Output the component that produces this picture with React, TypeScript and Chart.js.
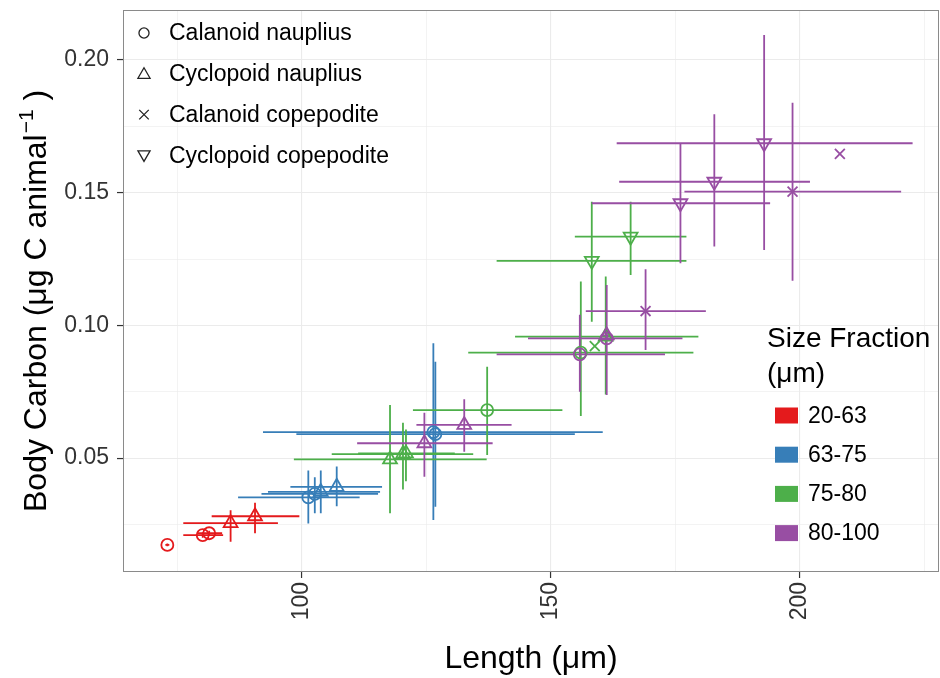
import React, { useEffect, useRef } from 'react';
import { Chart, registerables } from 'chart.js';

Chart.register(...registerables);

const FONT = '"Liberation Sans", Arial, Helvetica, sans-serif';

// ---------- categories ----------
const stageNames = ['Calanoid nauplius', 'Cyclopoid nauplius', 'Calanoid copepodite', 'Cyclopoid copepodite'];
const fractionNames = ['20-63', '63-75', '75-80', '80-100'];
const fractionColors = ['#E41A1C', '#377EB8', '#4DAF4A', '#984EA3'];

// ---------- observations ----------
const obsFraction = [0, 0, 0, 0, 0, 1, 1, 1, 1, 1, 1, 2, 2, 2, 2, 2, 2, 2, 2, 2, 3, 3, 3, 3, 3, 3, 3, 3, 3, 3, 3];
const obsStage = [0, 0, 0, 1, 1, 0, 0, 1, 1, 0, 0, 1, 1, 1, 0, 0, 2, 1, 3, 3, 1, 1, 0, 0, 1, 2, 3, 3, 3, 2, 2];
const lengthMean = [73.0, 80.1, 81.4, 85.7, 90.6, 101.3, 102.6, 103.8, 107.0, 126.4, 126.8, 117.7, 120.3, 120.9, 137.2, 156.0, 158.8, 161.0, 158.2, 166.0, 124.6, 132.6, 155.8, 161.2, 161.2, 169.0, 176.0, 182.8, 192.8, 198.5, 208.0];
const lengthLow = [72.6, 76.2, 79.0, 76.2, 81.9, 87.2, 91.9, 93.2, 97.7, 92.2, 98.9, 98.4, 106.0, 111.3, 122.3, 133.4, 158.8, 142.8, 139.1, 154.8, 111.1, 123.0, 139.1, 145.4, 160.0, 157.0, 158.2, 163.7, 163.2, 176.8, 208.0];
const lengthHigh = [73.4, 84.2, 84.0, 95.2, 99.5, 111.6, 115.3, 115.7, 116.1, 160.4, 154.8, 137.1, 134.4, 130.7, 152.3, 178.6, 158.8, 179.6, 177.2, 177.2, 138.3, 142.1, 172.9, 176.4, 162.4, 181.1, 194.0, 202.0, 222.6, 220.3, 208.0];
const carbonMean = [0.0173, 0.0210, 0.0217, 0.0255, 0.0281, 0.0352, 0.0365, 0.0373, 0.0392, 0.0598, 0.0590, 0.0495, 0.0515, 0.0518, 0.0681, 0.0897, 0.0922, 0.0958, 0.1243, 0.1334, 0.0556, 0.0625, 0.0891, 0.0951, 0.0962, 0.1054, 0.1460, 0.1541, 0.1686, 0.1504, 0.1646];
const carbonLow = [0.0168, 0.0200, 0.0208, 0.0185, 0.0217, 0.0254, 0.0292, 0.0292, 0.0319, 0.0267, 0.0317, 0.0292, 0.0382, 0.0413, 0.0512, 0.0659, 0.0922, 0.0740, 0.1014, 0.1190, 0.0430, 0.0524, 0.0750, 0.0738, 0.0950, 0.0907, 0.1234, 0.1297, 0.1284, 0.1168, 0.1646];
const carbonHigh = [0.0178, 0.0220, 0.0226, 0.0304, 0.0332, 0.0453, 0.0428, 0.0453, 0.0468, 0.0933, 0.0863, 0.0700, 0.0633, 0.0608, 0.0844, 0.1165, 0.0922, 0.1184, 0.1466, 0.1466, 0.0671, 0.0722, 0.1040, 0.1152, 0.0975, 0.1211, 0.1686, 0.1795, 0.2094, 0.1839, 0.1646];

// ---------- ticks ----------
const xMajorTicks = [100, 150, 200];
const xTickLabels = ['100', '150', '200'];
const xMinorTicks = [75, 125, 175, 225];
const yMajorTicks = [0.05, 0.1, 0.15, 0.2];
const yTickLabels = ['0.05', '0.10', '0.15', '0.20'];
const yMinorTicks = [0.025, 0.075, 0.125, 0.175];
const xRange = [64.1, 227.9];
const yRange = [0.0071, 0.2188];

const xTitle = 'Length (μm)';
const yTitleMain = 'Body Carbon (μg C animal';
const yTitleSup = '−1';
const yTitleEnd = ' )';
const legendTitleLines = ['Size Fraction', '(μm)'];

// marker look (style, not data)
const shapeStyles = ['circle', 'triangle', 'crossRot', 'triangle'];
const shapeRotation = [0, 0, 0, 180];
const shapeRadius = [6, 8, 7, 8];

const near = (a: number, list: number[]) => list.findIndex((v) => Math.abs(v - a) < 1e-6);

function drawShape(ctx: CanvasRenderingContext2D, s: number, x: number, y: number, r: number) {
  ctx.beginPath();
  if (s === 0) {
    ctx.arc(x, y, r * 0.72, 0, Math.PI * 2);
  } else if (s === 1) {
    ctx.moveTo(x, y - r);
    ctx.lineTo(x + r * 0.866, y + r * 0.5);
    ctx.lineTo(x - r * 0.866, y + r * 0.5);
    ctx.closePath();
  } else if (s === 3) {
    ctx.moveTo(x, y + r);
    ctx.lineTo(x + r * 0.866, y - r * 0.5);
    ctx.lineTo(x - r * 0.866, y - r * 0.5);
    ctx.closePath();
  } else {
    const d = r * 0.68;
    ctx.moveTo(x - d, y - d);
    ctx.lineTo(x + d, y + d);
    ctx.moveTo(x + d, y - d);
    ctx.lineTo(x - d, y + d);
  }
  ctx.stroke();
}

const errorBarPlugin = {
  id: 'errorBars',
  beforeDatasetsDraw(chart: any) {
    const { ctx, chartArea, scales } = chart;
    const xs = scales.x;
    const ys = scales.y;
    ctx.save();
    ctx.beginPath();
    ctx.rect(chartArea.left, chartArea.top, chartArea.right - chartArea.left, chartArea.bottom - chartArea.top);
    ctx.clip();
    ctx.lineWidth = 1.8;
    ctx.lineCap = 'butt';
    chart.data.datasets.forEach((ds: any) => {
      ctx.strokeStyle = ds.borderColor;
      ds.data.forEach((p: any) => {
        const px = xs.getPixelForValue(p.x);
        const py = ys.getPixelForValue(p.y);
        ctx.beginPath();
        if (p.xHi > p.xLo) {
          ctx.moveTo(xs.getPixelForValue(p.xLo), py);
          ctx.lineTo(xs.getPixelForValue(p.xHi), py);
        }
        if (p.yHi > p.yLo) {
          ctx.moveTo(px, ys.getPixelForValue(p.yLo));
          ctx.lineTo(px, ys.getPixelForValue(p.yHi));
        }
        ctx.stroke();
      });
    });
    ctx.restore();
  },
};

const frameLegendPlugin = {
  id: 'frameLegend',
  afterDraw(chart: any) {
    const { ctx, chartArea } = chart;
    ctx.save();
    // panel border
    ctx.strokeStyle = '#8a8a8a';
    ctx.lineWidth = 1;
    ctx.strokeRect(chartArea.left + 0.5, chartArea.top + 0.5, chartArea.right - chartArea.left - 1, chartArea.bottom - chartArea.top - 1);

    // y axis title with superscript
    ctx.save();
    ctx.fillStyle = '#000';
    ctx.textAlign = 'left';
    ctx.textBaseline = 'alphabetic';
    ctx.translate(46, 512);
    ctx.rotate(-Math.PI / 2);
    ctx.font = `32px ${FONT}`;
    ctx.fillText(yTitleMain, 0, 0);
    const w1 = ctx.measureText(yTitleMain).width;
    ctx.font = `21px ${FONT}`;
    ctx.fillText(yTitleSup, w1 + 1, -13);
    const w2 = ctx.measureText(yTitleSup).width;
    ctx.font = `32px ${FONT}`;
    ctx.fillText(yTitleEnd, w1 + w2 + 1, 0);
    ctx.restore();

    // shape legend
    ctx.fillStyle = '#000';
    ctx.strokeStyle = '#222';
    ctx.lineWidth = 1.3;
    ctx.font = `23px ${FONT}`;
    ctx.textBaseline = 'middle';
    ctx.textAlign = 'left';
    stageNames.forEach((name, i) => {
      const cy = 33 + i * 40.8;
      drawShape(ctx, i, 144, cy + (i === 1 ? 1 : i === 3 ? -1 : 0), 7);
      ctx.fillText(name, 169, cy + 1);
    });

    // size fraction legend
    ctx.font = `28px ${FONT}`;
    legendTitleLines.forEach((t, i) => ctx.fillText(t, 767, 339 + i * 35));
    ctx.font = `23px ${FONT}`;
    fractionNames.forEach((name, i) => {
      const cy = 415.5 + i * 39.2;
      ctx.fillStyle = fractionColors[i];
      ctx.fillRect(775, cy - 8, 23, 16);
      ctx.fillStyle = '#000';
      ctx.fillText(name, 808, cy + 1);
    });
    ctx.restore();
  },
};

const zeroPad = (s: any) => {
  s.paddingTop = 0;
  s.paddingBottom = 0;
  s.paddingLeft = 0;
  s.paddingRight = 0;
};

export default function App() {
  const ref = useRef<HTMLCanvasElement | null>(null);

  useEffect(() => {
    if (!ref.current) return;
    const datasets = fractionNames.map((name, f) => {
      const idx = obsFraction.map((v, i) => (v === f ? i : -1)).filter((i) => i >= 0);
      return {
        label: name,
        data: idx.map((i) => ({
          x: lengthMean[i],
          y: carbonMean[i],
          xLo: lengthLow[i],
          xHi: lengthHigh[i],
          yLo: carbonLow[i],
          yHi: carbonHigh[i],
          stage: obsStage[i],
        })),
        borderColor: fractionColors[f],
        backgroundColor: 'rgba(0,0,0,0)',
        pointBorderWidth: 1.8,
        pointStyle: (c: any) => shapeStyles[c.raw ? c.raw.stage : 0],
        pointRotation: (c: any) => shapeRotation[c.raw ? c.raw.stage : 0],
        pointRadius: (c: any) => shapeRadius[c.raw ? c.raw.stage : 0],
        order: fractionNames.length - f,
      };
    });

    const gridColor = '#EBEBEB';
    const chart = new Chart(ref.current, {
      type: 'scatter',
      data: { datasets } as any,
      plugins: [errorBarPlugin, frameLegendPlugin],
      options: {
        animation: false,
        responsive: false,
        events: [],
        layout: { autoPadding: false, padding: { top: 10, right: 1, left: 0, bottom: 0 } },
        plugins: { legend: { display: false }, tooltip: { enabled: false } },
        scales: {
          x: {
            type: 'linear',
            min: xRange[0],
            max: xRange[1],
            afterBuildTicks: (s: any) => {
              s.ticks = [...xMinorTicks, ...xMajorTicks].sort((a, b) => a - b).map((v) => ({ value: v }));
            },
            afterFit: (s: any) => {
              s.height = 106;
              zeroPad(s);
            },
            border: { display: false },
            grid: {
              color: gridColor,
              lineWidth: (c: any) => (c.tick && near(c.tick.value, xMajorTicks) >= 0 ? 1.1 : 0.6),
              tickColor: (c: any) => (c.tick && near(c.tick.value, xMajorTicks) >= 0 ? '#333' : 'rgba(0,0,0,0)'),
              tickLength: 6,
              tickWidth: 1.2,
            },
            ticks: {
              autoSkip: false,
              minRotation: 90,
              maxRotation: 90,
              padding: 4,
              color: '#333',
              font: { family: FONT, size: 23 },
              callback: (v: any) => {
                const k = near(Number(v), xMajorTicks);
                return k >= 0 ? xTickLabels[k] : '';
              },
            },
            title: {
              display: true,
              text: xTitle,
              color: '#000',
              font: { family: FONT, size: 32, lineHeight: 1.2 },
              padding: { top: 0, bottom: 0 },
            },
          },
          y: {
            type: 'linear',
            min: yRange[0],
            max: yRange[1],
            afterBuildTicks: (s: any) => {
              s.ticks = [...yMinorTicks, ...yMajorTicks].sort((a, b) => a - b).map((v) => ({ value: v }));
            },
            afterFit: (s: any) => {
              s.width = 123;
              zeroPad(s);
            },
            border: { display: false },
            grid: {
              color: gridColor,
              lineWidth: (c: any) => (c.tick && near(c.tick.value, yMajorTicks) >= 0 ? 1.1 : 0.6),
              tickColor: (c: any) => (c.tick && near(c.tick.value, yMajorTicks) >= 0 ? '#333' : 'rgba(0,0,0,0)'),
              tickLength: 6,
              tickWidth: 1.2,
            },
            ticks: {
              autoSkip: false,
              padding: 8,
              color: '#333',
              font: { family: FONT, size: 23 },
              callback: (v: any) => {
                const k = near(Number(v), yMajorTicks);
                return k >= 0 ? yTickLabels[k] : '';
              },
            },
            title: { display: false },
          },
        },
      } as any,
    });
    return () => chart.destroy();
  }, []);

  return (
    <div style={{ position: 'fixed', left: 0, top: 0, width: 940, height: 678, background: '#fff' }}>
      <canvas ref={ref} width={940} height={678} style={{ width: 940, height: 678, display: 'block' }} />
    </div>
  );
}
